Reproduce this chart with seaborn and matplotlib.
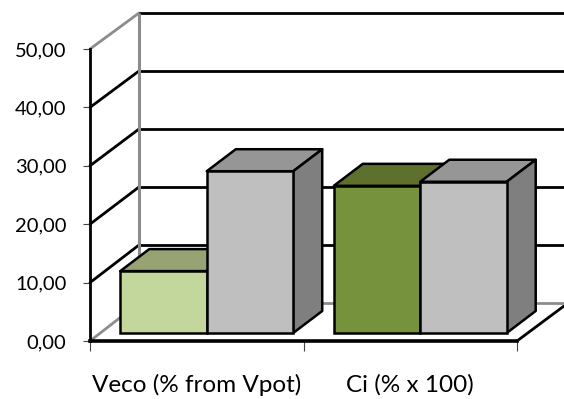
import matplotlib
matplotlib.use('Agg')
import matplotlib.pyplot as plt
from matplotlib.lines import Line2D
from matplotlib.patches import Polygon
from matplotlib.transforms import IdentityTransform
import pandas as pd
import seaborn as sns

categories = ['Veco (% from Vpot)', 'Ci (% x 100)']
series_a = [10.6, 25.2]
series_b = [27.7, 25.9]
y_ticks = [0, 10, 20, 30, 40, 50]
y_labels = ['0,00', '10,00', '20,00', '30,00', '40,00', '50,00']

front_colors = ['#C3D69B', '#76923C', '#BFBFBF', '#BFBFBF']
top_colors = ['#98A374', '#5E702E', '#969696', '#969696']
side_color = '#7F7F7F'

W, H = 564, 399

sns.set_theme(style='white')
plt.rcParams['font.family'] = ['Lato', 'DejaVu Sans']

df = pd.DataFrame({
    'category': categories * 2,
    'value': series_a + series_b,
    'series': ['a'] * 2 + ['b'] * 2,
})

fig = plt.figure(figsize=(W / 100, H / 100), dpi=100)
fig.patch.set_facecolor('white')


def px_axes(left, right, top, bottom):
    # axes placed by pixel positions of the image, y measured from the top
    return fig.add_axes([left / W, 1 - bottom / H, (right - left) / W, (bottom - top) / H])


# back wall
ax_back = px_axes(139, 566, 13, 303)
ax_back.set_xlim(0, 1)
ax_back.set_ylim(0, 50)
ax_back.axis('off')
for t in y_ticks:
    color = '#8C8C8C' if t == 0 else 'black'
    ax_back.hlines(t, 0, 1, color=color, lw=2, clip_on=False)
ax_back.vlines(0, 0, 50, color='#8C8C8C', lw=2.2, clip_on=False)

# front plane, holds the axis
ax = px_axes(90, 517, 49, 341)
ax.patch.set_alpha(0)
ax.set_xlim(-0.5, 1.5)
ax.set_ylim(0, 50)
ax.set_xticks([-0.5, 0.5, 1.5])
ax.set_xticklabels([])
ax.set_yticks(y_ticks)
ax.set_yticklabels(y_labels, fontsize=14.5, color='black')
ax.tick_params(axis='y', length=5, width=0.8, color='#444444', left=True, pad=12)
ax.tick_params(axis='x', length=7, width=0.8, color='#444444', bottom=True)
for s in ['top', 'right']:
    ax.spines[s].set_visible(False)
ax.spines['left'].set_linewidth(2)
ax.spines['left'].set_color('black')
ax.spines['bottom'].set_linewidth(2.6)
ax.spines['bottom'].set_color('black')
for i, name in enumerate(categories):
    x = [197, 410][i]
    fig.text(x / W, 1 - 385 / H, name, fontsize=17.5, color='black', ha='center', va='center')

# left wall and floor edges
for t in y_ticks:
    color = '#8C8C8C' if t in (0, 50) else 'black'
    y0 = 341 - t * 292 / 50
    y1 = 303 - t * 290 / 50
    fig.add_artist(Line2D([90 / W, 139 / W], [1 - y0 / H, 1 - y1 / H], color=color, lw=2,
                          transform=fig.transFigure, zorder=-1))
fig.add_artist(Line2D([517 / W, 564 / W], [1 - 341 / H, 1 - 306 / H], color='black', lw=2,
                      transform=fig.transFigure, zorder=-1))

# bars, sit a little behind the front plane
ax_bars = px_axes(100, 527, 41, 333)
ax_bars.patch.set_alpha(0)
sns.barplot(data=df, x='category', y='value', hue='series', hue_order=['a', 'b'],
            order=categories, width=0.81, gap=0, dodge=True, legend=False, ax=ax_bars,
            edgecolor='black', linewidth=1.8, saturation=1)
ax_bars.set_xlim(-0.5, 1.5)
ax_bars.set_ylim(0, 50)
ax_bars.axis('off')

dx, dy = 29, 22
bars = list(ax_bars.patches)
bars_sorted = sorted(bars, key=lambda b: b.get_x())
for bar, fc in zip(bars, front_colors):
    bar.set_facecolor(fc)
    bar.set_zorder(5)
    bar.set_clip_on(False)

fig.canvas.draw()
tops = dict(zip(map(id, bars), top_colors))
for bar in bars_sorted:
    x0, y0 = ax_bars.transData.transform((bar.get_x(), 0))
    x1, y1 = ax_bars.transData.transform((bar.get_x() + bar.get_width(), bar.get_height()))
    top = Polygon([(x0, y1), (x1, y1), (x1 + dx, y1 + dy), (x0 + dx, y1 + dy)],
                  closed=True, facecolor=tops[id(bar)], edgecolor='black', lw=1.8,
                  transform=IdentityTransform(), zorder=3, clip_on=False, joinstyle='round')
    side = Polygon([(x1, y0), (x1 + dx, y0 + dy), (x1 + dx, y1 + dy), (x1, y1)],
                   closed=True, facecolor=side_color, edgecolor='black', lw=1.8,
                   transform=IdentityTransform(), zorder=3, clip_on=False, joinstyle='round')
    ax_bars.add_patch(top)
    ax_bars.add_patch(side)

fig.savefig('out.png', dpi=100)
